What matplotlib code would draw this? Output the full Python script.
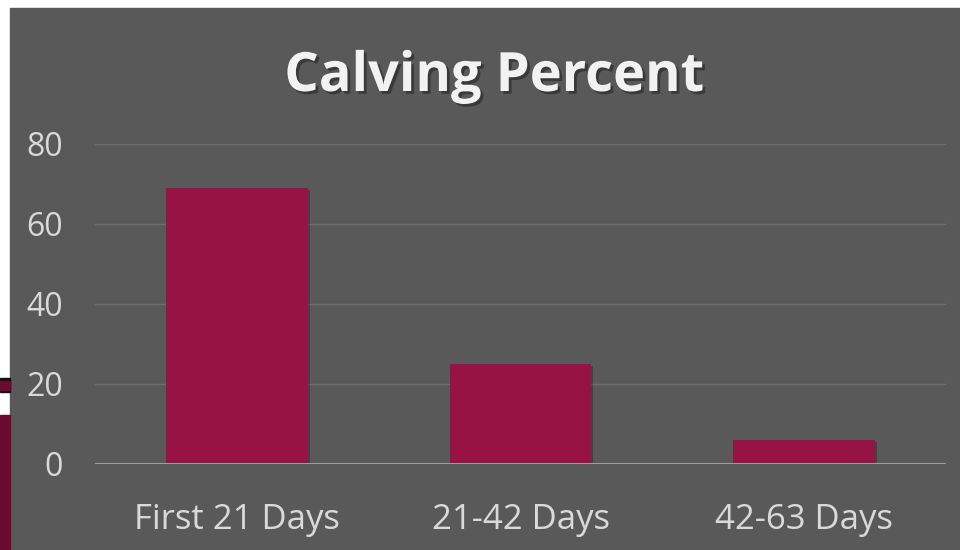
import matplotlib
matplotlib.use("Agg")
import matplotlib.pyplot as plt
import matplotlib.patheffects as pe
from matplotlib.patches import Rectangle

categories = ["First 21 Days", "21-42 Days", "42-63 Days"]
calving_pct = [69, 25, 6]
y_ticks = [0, 20, 40, 60, 80]

BG = "#595959"
BAR = "#961343"
TXT = "#d9d9d9"

fig = plt.figure(figsize=(9.6, 5.5), dpi=100, facecolor="white")

# chart panel sits slightly offset inside a screenshot of a slide
def fig_rect(x0, y0, w, h, color):
    # pixel coords measured from the top-left corner
    fig.patches.append(Rectangle((x0 / 960, 1 - (y0 + h) / 550), w / 960, h / 550,
                                 transform=fig.transFigure, color=color, zorder=-5))

fig_rect(10, 8, 950, 542, BG)
# bits of the slide showing through on the left
fig_rect(0, 378, 10, 14, "#111111")
fig_rect(0, 381, 10, 9, "#6b0a2e")
fig_rect(0, 415, 10, 135, "#6b0a2e")

ax = fig.add_axes([95 / 960, 86 / 550, 851 / 960, 320 / 550])
ax.set_facecolor("none")

x = range(len(categories))
bars = ax.bar(x, calving_pct, width=0.5, color=BAR, zorder=3)
for b in bars:
    b.set_path_effects([pe.SimplePatchShadow(offset=(1.5, -1.5), shadow_rgbFace="black", alpha=0.25),
                        pe.Normal()])

ax.set_xlim(-0.5, 2.5)
ax.set_ylim(0, 80)
ax.set_yticks(y_ticks)
ax.yaxis.grid(True, color="#6e6e6e", linewidth=1, zorder=0)
ax.axhline(0, color="#a6a6a6", linewidth=2, zorder=4)
for s in ax.spines.values():
    s.set_visible(False)
ax.tick_params(length=0)
ax.tick_params(axis="y", pad=23, labelsize=23, labelcolor=TXT)
ax.tick_params(axis="x", pad=28, labelsize=25, labelcolor=TXT)
ax.set_xticks(list(x))
ax.set_xticklabels(categories)
for lbl in ax.get_xticklabels() + ax.get_yticklabels():
    lbl.set_fontfamily("Open Sans")

fig.text(494 / 960, 1 - 77 / 550, "Calving Percent", ha="center", va="center",
         fontsize=39, fontweight="bold", color="#f2f2f2", family="Open Sans",
         path_effects=[pe.withSimplePatchShadow(offset=(2, -2), shadow_rgbFace="black", alpha=0.35)])

fig.savefig("out.png", dpi=100, facecolor=fig.get_facecolor())
